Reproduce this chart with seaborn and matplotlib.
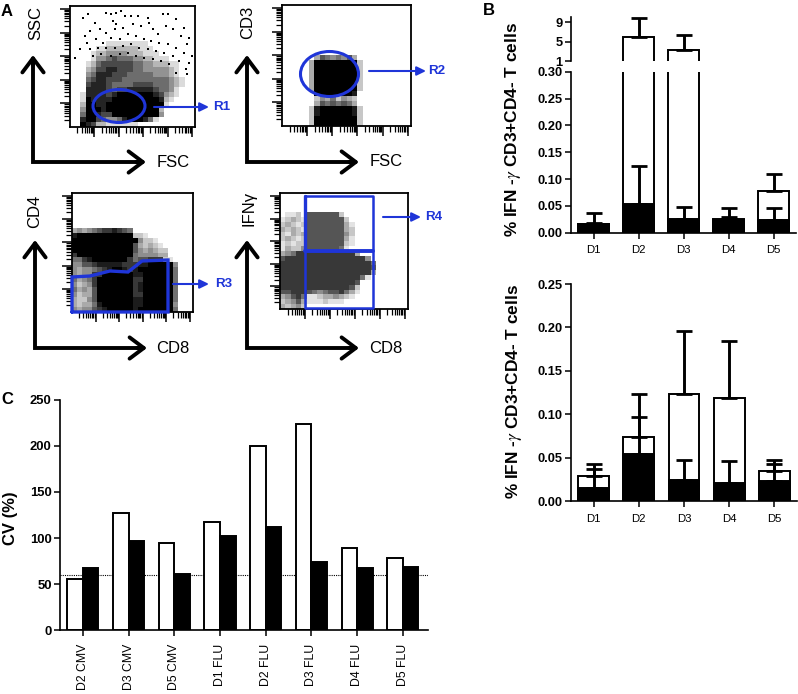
import numpy as np
import pandas as pd
from matplotlib import pyplot as plt
from matplotlib.patches import Ellipse
import seaborn as sns

W, H = 798, 694
BLUE = '#1f35d8'

# panel A, density of the dot plots (0 empty .. 9 solid), top row first
ssc_fsc = ["000000000000000000000000"] * 7 + [
    "000000011111111000000000",
    "000001122222211100000000",
    "000012233332221110000000",
    "000013345444332211100000",
    "000124555555443322211000",
    "000235566555443333321000",
    "000346665554444433321000",
    "000456655544444444432100",
    "000566654444555544432100",
    "000666654556666654431000",
    "001666656899999765321000",
    "001766669999999986210000",
    "002776679999999997100000",
    "003777679999999992000000",
    "004776557899999983000000",
    "006775433467776410000000",
    "007652211111100000000000",
]
# single dots of the sparse upper part of SSC/FSC, in picture channels
sparse_fsc = [40, 55, 75, 110, 125, 140, 155, 130, 140, 165, 185, 205, 235, 240, 280, 295, 320, 345, 360,
              60, 45, 90, 110, 135, 160, 190, 215, 250, 265, 290, 310, 335, 355, 370, 30, 15, 50, 80, 100,
              125, 150, 175, 200, 225, 245, 270, 295, 320, 345, 360, 60, 85, 110, 135, 160, 185, 210, 235,
              260, 285, 310, 330, 350, 70, 95, 125, 150, 175, 200, 225, 250, 275, 300, 320, 355]
sparse_ssc = [35, 25, 50, 20, 25, 20, 15, 45, 55, 30, 30, 30, 35, 50, 25, 25, 40, 65, 95,
              75, 90, 70, 80, 70, 65, 55, 60, 70, 85, 60, 70, 90, 115, 150, 130, 155, 110, 100, 110,
              95, 100, 85, 90, 100, 105, 110, 115, 125, 140, 170, 130, 125, 125, 125, 120, 115, 125, 130,
              135, 140, 150, 165, 190, 150, 145, 150, 145, 140, 150, 155, 160, 165, 175, 200, 205]
cd3_fsc = ["000000000000000000000000"] * 10 + [
    "000000365454630000000000",
    "000003999999992000000000",
    "000003999999992000000000",
    "000003999999992000000000",
    "000003999999992000000000",
    "000003999999992000000000",
    "000003999999992000000000",
    "000000999999980000000000",
    "000000243524320000000000",
    "000000365656530000000000",
    "000002899999982000000000",
    "000002899999982000000000",
    "000002999999992000000000",
    "000002999999992000000000",
]
cd4_cd8 = ["000000000000000000000000"] * 7 + [
    "343456778765000000000000",
    "899999999999221000000000",
    "999999999999942210000000",
    "999999999999632321000000",
    "999999999999643432200000",
    "799999999999544443300000",
    "557899999997566777210000",
    "446678888877788999994000",
    "434456789987899999995000",
    "434477999999889999995000",
    "534579999999779999995000",
    "423479999999789999995000",
    "534369999999789999995000",
    "423369999999779999995000",
    "322469999999889999995000",
    "323358999999889999994000",
    "434467899999899999995000",
]
ifn_cd8 = ["000000000000000000000000"] * 4 + [
    "011206666662000000000000",
    "123216666666200000000000",
    "232126666666310000000000",
    "323216666666320000000000",
    "213236666666420000000000",
    "232126666666310000000000",
    "121226666666210000000000",
    "132246666665100000000000",
    "345777777777773000000000",
    "677777777777777740000000",
    "777777777777777775000000",
    "777777777777777776000000",
    "777777777777777773000000",
    "777777777777777510000000",
    "777777777777776000000000",
    "777777777777762000000000",
    "667776545667531000000000",
    "346751123343210000000000",
    "234631112111000000000000",
    "323420000000000000000000",
]

# panel B top
donors = ['D1', 'D2', 'D3', 'D4', 'D5']
top_white = [0.017, 6.0, 3.3, 0.024, 0.077]
top_white_err = [0.037, 9.8, 6.4, 0.046, 0.109]
top_black = [0.016, 0.054, 0.025, 0.025, 0.023]
top_black_err = [0.018, 0.124, 0.048, 0.029, 0.046]

# panel B bottom
bot_white = [0.029, 0.074, 0.123, 0.119, 0.035]
bot_white_err = [0.043, 0.097, 0.196, 0.184, 0.043]
bot_black = [0.015, 0.054, 0.024, 0.021, 0.023]
bot_black_err = [0.037, 0.124, 0.048, 0.046, 0.047]

# panel C
cv_labels = ['D2 CMV', 'D3 CMV', 'D5 CMV', 'D1 FLU', 'D2 FLU', 'D3 FLU', 'D4 FLU', 'D5 FLU']
cv_white = [56, 127, 95, 117, 200, 224, 89, 78]
cv_black = [68, 97, 61, 102, 112, 74, 67, 69]
cv_limit = 60


def px_axes(fig, left, top, right, bottom):
    """Add axes from a box given in image pixels"""
    return fig.add_axes([left / W, 1 - bottom / H, (right - left) / W, (bottom - top) / H])


def log_ticks(decade=0.195):
    """Major and minor positions of a flow cytometry log axis, as fractions of the axis"""
    major = [decade * k for k in range(1, 6)]
    minor = [decade * (k + np.log10(m)) for k in range(5) for m in range(2, 10)]
    return major, [f for f in minor if f < 1]


def dot_plot(fig, rows, box, vmax=9):
    """Draw a dot plot density grid with its log ticks"""
    ax = px_axes(fig, *box)
    grid = np.array([[int(c) for c in r] for r in rows])
    sns.heatmap(grid, cmap='gray_r', vmin=0, vmax=vmax, cbar=False,
                xticklabels=False, yticklabels=False, ax=ax)
    for sp in ax.spines.values():
        sp.set_visible(True)
        sp.set_linewidth(1.3)
    n_rows, n_cols = grid.shape
    major, minor = log_ticks()
    ax.set_xticks([f * n_cols for f in major if f < 1])
    ax.set_yticks([n_rows * (1 - f) for f in major if f < 1])
    ax.set_xticks([f * n_cols for f in minor], minor=True)
    ax.set_yticks([n_rows * (1 - f) for f in minor], minor=True)
    ax.tick_params(which='major', length=7, width=1.1, labelbottom=False, labelleft=False)
    ax.tick_params(which='minor', length=4.5, width=0.9)
    return ax


def bars_with_errors(ax, white, white_err, black, black_err):
    """Overlay white and black bars with upper error bars"""
    sns.barplot(x=donors, y=white, color='white', edgecolor='black', linewidth=1.4,
                width=0.68, saturation=1, ax=ax)
    sns.barplot(x=donors, y=black, color='black', edgecolor='black', linewidth=1.4,
                width=0.68, saturation=1, ax=ax)
    pos = np.arange(len(donors))
    for vals, errs in [(white, white_err), (black, black_err)]:
        vals, errs = np.array(vals), np.array(errs)
        ax.errorbar(pos, vals, yerr=[np.zeros(len(vals)), errs - vals], fmt='none',
                    ecolor='black', elinewidth=2.1, capsize=5.5, capthick=2.0, zorder=5)
    ax.set_xlim(-0.5, 4.5)


def arrows(ov, x, top, bottom, right):
    """L shaped black axis arrows of the dot plots"""
    ov.plot([x, x, right - 6], [top + 6, bottom, bottom], color='black', lw=2.8,
            solid_joinstyle='miter', solid_capstyle='butt')
    style = '->,head_length=0.6,head_width=0.45'
    ov.annotate('', xy=(x, top), xytext=(x, top + 10), annotation_clip=False,
                arrowprops=dict(arrowstyle=style, color='black', lw=2.8, shrinkA=0, shrinkB=0,
                                mutation_scale=17))
    ov.annotate('', xy=(right, bottom), xytext=(right - 10, bottom), annotation_clip=False,
                arrowprops=dict(arrowstyle=style, color='black', lw=2.8, shrinkA=0, shrinkB=0,
                                mutation_scale=17))


def gate_arrow(ov, x0, x1, y, label, label_x):
    """Blue arrow pointing at a gate name"""
    ov.annotate('', xy=(x1, y), xytext=(x0, y),
                arrowprops=dict(arrowstyle='-|>,head_length=0.45,head_width=0.22', color=BLUE,
                                lw=1.5, shrinkA=0, shrinkB=0, mutation_scale=12))
    ov.text(label_x, y, label, color=BLUE, fontsize=9.6, fontweight='bold', va='center', ha='left')


sns.set_style('ticks')
plt.rcParams['font.family'] = ['Liberation Sans', 'DejaVu Sans']
plt.rcParams['mathtext.fontset'] = 'stix'
plt.rcParams['axes.edgecolor'] = 'black'
plt.rcParams['xtick.color'] = 'black'
plt.rcParams['ytick.color'] = 'black'
plt.rcParams['text.color'] = 'black'

fig = plt.figure(figsize=(W / 100, H / 100), dpi=100, facecolor='white')

# panel A
ax_ssc = dot_plot(fig, ssc_fsc, (70, 6, 195, 127), vmax=7)
sns.scatterplot(x=np.array(sparse_fsc) / 378 * 24, y=np.array(sparse_ssc) / 15.1, s=4, marker='s',
                color='black', linewidth=0, legend=False, ax=ax_ssc)
dot_plot(fig, cd3_fsc, (282, 5, 411, 126))
dot_plot(fig, cd4_cd8, (72, 193, 193, 312))
dot_plot(fig, ifn_cd8, (280, 193, 408, 309))

# panel B top, broken axis
ax_low = px_axes(fig, 571, 71.7, 796, 232.7)
bars_with_errors(ax_low, top_white, top_white_err, top_black, top_black_err)
ax_low.set_ylim(0, 0.30)
ax_low.set_yticks([0, 0.05, 0.10, 0.15, 0.20, 0.25, 0.30])
ax_low.set_yticklabels(['0.00', '0.05', '0.10', '0.15', '0.20', '0.25', '0.30'],
                       fontsize=9.3, fontweight='bold')
ax_low.tick_params(axis='x', length=4, width=1.1, labelsize=8.2, pad=5)
ax_low.tick_params(axis='y', length=4, width=1.1, pad=2)
sns.despine(ax=ax_low)

ax_up = px_axes(fig, 571, 17, 796, 61)
bars_with_errors(ax_up, top_white, top_white_err, top_black, top_black_err)
ax_up.set_ylim(1, 10.1)
ax_up.set_yticks([1, 5, 9])
ax_up.set_yticklabels(['1', '5', '9'], fontsize=9.3, fontweight='bold')
ax_up.tick_params(axis='y', length=4, width=1.1, pad=2)
ax_up.set_xticks([])
ax_up.set(xlabel=None)
sns.despine(ax=ax_up, bottom=True)

# panel B bottom
ax_bot = px_axes(fig, 571, 284, 797, 501.3)
bars_with_errors(ax_bot, bot_white, bot_white_err, bot_black, bot_black_err)
ax_bot.set_ylim(0, 0.25)
ax_bot.set_yticks([0, 0.05, 0.10, 0.15, 0.20, 0.25])
ax_bot.set_yticklabels(['0.00', '0.05', '0.10', '0.15', '0.20', '0.25'],
                       fontsize=9.3, fontweight='bold')
ax_bot.tick_params(axis='x', length=4, width=1.1, labelsize=8.2, pad=5)
ax_bot.tick_params(axis='y', length=4, width=1.1, pad=2)
sns.despine(ax=ax_bot)

# panel C
ax_cv = px_axes(fig, 60, 399.7, 428, 630.3)
cv = pd.DataFrame({
    'label': cv_labels * 2,
    'cv': cv_white + cv_black,
    'kind': ['white'] * len(cv_labels) + ['black'] * len(cv_labels),
})
sns.barplot(data=cv, x='label', y='cv', hue='kind', palette={'white': 'white', 'black': 'black'},
            edgecolor='black', linewidth=1.4, width=0.68, saturation=1, legend=False, ax=ax_cv)
ax_cv.axhline(cv_limit, color='black', lw=0.8, ls=(0, (1, 1)), zorder=0.5)
ax_cv.set_xlim(-0.5, 7.55)
ax_cv.set_ylim(0, 250)
ax_cv.set_yticks([0, 50, 100, 150, 200, 250])
ax_cv.set_yticklabels(['0', '50', '100', '150', '200', '250'], fontsize=9.4, fontweight='bold')
ax_cv.set_xticks(range(len(cv_labels)))
ax_cv.set_xticklabels(cv_labels, rotation=90, fontsize=8.8)
ax_cv.tick_params(axis='x', length=4, width=1.1, pad=6)
ax_cv.tick_params(axis='y', length=4, width=1.1, pad=2)
ax_cv.set(xlabel=None, ylabel=None)
sns.despine(ax=ax_cv)
for ax in [ax_low, ax_up, ax_bot, ax_cv]:
    for side in ['left', 'bottom']:
        ax.spines[side].set_linewidth(1.2)

# overlay in image pixels for the gates, arrows and free text
ov = fig.add_axes([0, 0, 1, 1], facecolor='none')
ov.set_xlim(0, W)
ov.set_ylim(H, 0)
ov.axis('off')

arrows(ov, 33, 55, 162, 146)
arrows(ov, 247, 55, 162, 359)
arrows(ov, 35, 240, 348, 147)
arrows(ov, 247, 240, 348, 359)

ov.add_patch(Ellipse((119, 106), 52, 33, fill=False, edgecolor=BLUE, lw=2.2))
ov.add_patch(Ellipse((329.5, 74), 58, 45, fill=False, edgecolor=BLUE, lw=2.2))
ov.plot([72, 72, 90, 110, 128, 142, 168, 168, 72],
        [312, 277, 276, 271, 272, 261, 260, 312, 312], color=BLUE, lw=2.4, solid_joinstyle='miter')
ov.plot([305, 373, 373, 305, 305], [196, 196, 308, 308, 196], color=BLUE, lw=1.8)
ov.plot([305, 305], [196, 250], color=BLUE, lw=2.4)
ov.plot([305, 373], [250.5, 250.5], color=BLUE, lw=2.8)

gate_arrow(ov, 154, 209, 107, 'R1', 213)
gate_arrow(ov, 369, 426, 71, 'R2', 428)
gate_arrow(ov, 173, 209, 284, 'R3', 215)
gate_arrow(ov, 383, 421, 217, 'R4', 425)

for x, y, s, rot, ha in [(36, 23, 'SSC', 90, 'center'), (248, 22, 'CD3', 90, 'center'),
                         (35, 211, 'CD4', 90, 'center'), (249, 208, 'IFNγ', 90, 'center'),
                         (157, 162, 'FSC', 0, 'left'), (370, 161, 'FSC', 0, 'left'),
                         (156, 348, 'CD8', 0, 'left'), (369, 348, 'CD8', 0, 'left')]:
    ov.text(x, y, s, fontsize=12, rotation=rot, ha=ha, va='center')

ifn_label = r'% IFN -$\gamma$ CD3+CD4- T cells'
ov.text(513, 130, ifn_label, fontsize=12.4, fontweight='bold', rotation=90, ha='center', va='center')
ov.text(514, 392, ifn_label, fontsize=12.4, fontweight='bold', rotation=90, ha='center', va='center')
ov.text(10, 518, 'CV (%)', fontsize=12, fontweight='bold', rotation=90, ha='center', va='center')

ov.text(1, 11, 'A', fontsize=12, fontweight='bold', va='center')
ov.text(483, 10, 'B', fontsize=12, fontweight='bold', va='center')
ov.text(1, 399, 'C', fontsize=12, fontweight='bold', va='center')

fig.savefig('out.png', dpi=100, facecolor='white')
